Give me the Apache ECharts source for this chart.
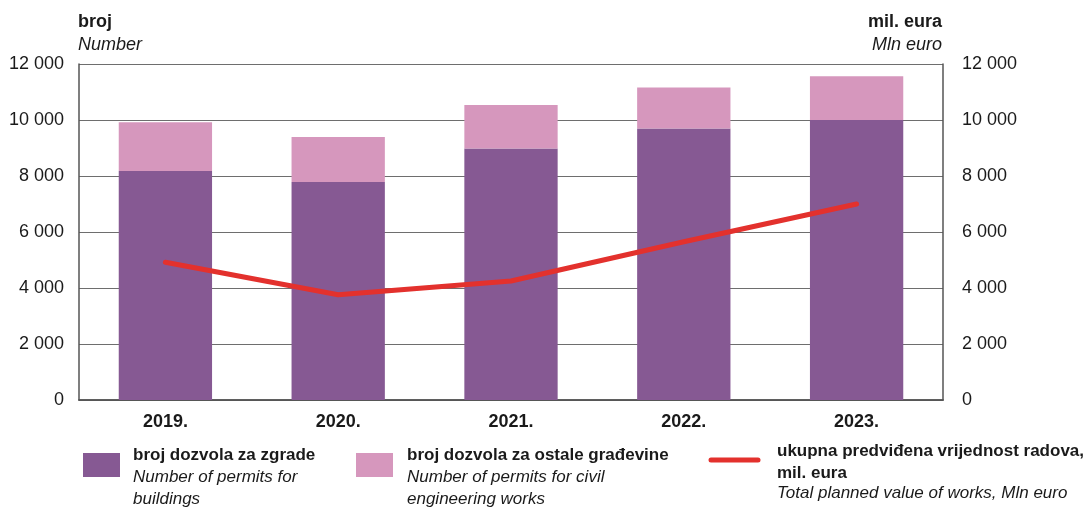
<!DOCTYPE html>
<html><head><meta charset="utf-8">
<script src="https://cdn.jsdelivr.net/npm/echarts@6/dist/echarts.min.js"></script>
<style>html,body{margin:0;padding:0;background:#fff}#c{width:1086px;height:510px}</style>
</head><body><div id="c"></div>
<script>
const categories = ['2019.', '2020.', '2021.', '2022.', '2023.'];
const permitsBuildings = [8180, 7790, 8980, 9700, 10000];
const permitsCivil = [1740, 1600, 1560, 1460, 1560];
const totalValue = [4920, 3760, 4250, 5650, 7000];
const yTicks = [0, 2000, 4000, 6000, 8000, 10000, 12000];

const FONT = '"Liberation Sans", Arial, sans-serif';
const C_DARK = '#865993', C_LIGHT = '#d697bd', C_RED = '#e3312d', TXT = '#1a1a1a';
const fmt = v => String(v).replace(/\B(?=(\d{3})+(?!\d))/g, ' ');

const chart = echarts.init(document.getElementById('c'));
const axisCommon = {
  type: 'value', min: yTicks[0], max: yTicks[yTicks.length - 1], interval: 2000,
  axisLine: { show: true, lineStyle: { color: '#555', width: 1.5 } },
  axisTick: { show: false },
  splitLine: { show: false },
  axisLabel: { fontFamily: FONT, fontSize: 18, color: TXT, formatter: fmt }
};
chart.setOption({
  animation: false,
  grid: { left: 79, right: 143, top: 64, bottom: 110, containLabel: false },
  xAxis: [{
    type: 'category', data: categories,
    axisLine: { lineStyle: { color: '#555', width: 1.5 } },
    axisTick: { show: false },
    axisLabel: { fontFamily: FONT, fontSize: 18, fontWeight: 'bold', color: TXT, margin: 13 }
  }, {
    type: 'category', data: categories, position: 'top',
    axisLine: { show: true, lineStyle: { color: '#555', width: 1.5 } },
    axisTick: { show: false }, axisLabel: { show: false }
  }],
  yAxis: [
    Object.assign({}, axisCommon, {
      position: 'left',
      splitLine: { show: true, lineStyle: { color: '#6e6e6e', width: 1 } },
      axisLabel: Object.assign({}, axisCommon.axisLabel, { margin: 15 })
    }),
    Object.assign({}, axisCommon, {
      position: 'right',
      axisLabel: Object.assign({}, axisCommon.axisLabel, { margin: 19 })
    })
  ],
  series: [
    { name: 'broj dozvola za zgrade', type: 'bar', stack: 'p', data: permitsBuildings,
      barWidth: '54%', itemStyle: { color: C_DARK }, z: 2 },
    { name: 'broj dozvola za ostale građevine', type: 'bar', stack: 'p', data: permitsCivil,
      barWidth: '54%', itemStyle: { color: C_LIGHT }, z: 2 },
    { name: 'ukupna predviđena vrijednost radova', type: 'line', yAxisIndex: 1, data: totalValue,
      symbol: 'none', lineStyle: { color: C_RED, width: 5, cap: 'round', join: 'round' }, z: 5 }
  ],
  graphic: [
    { type: 'text', left: 78, top: 13, style: { text: 'broj', font: 'bold 18px ' + FONT, fill: TXT } },
    { type: 'text', left: 78, top: 36, style: { text: 'Number', font: 'italic 18px ' + FONT, fill: TXT } },
    { type: 'text', right: 144, top: 13, style: { text: 'mil. eura', font: 'bold 18px ' + FONT, fill: TXT, align: 'right' } },
    { type: 'text', right: 144, top: 36, style: { text: 'Mln euro', font: 'italic 18px ' + FONT, fill: TXT, align: 'right' } },
    // legend 1
    { type: 'rect', shape: { x: 83, y: 453, width: 37, height: 24 }, style: { fill: C_DARK } },
    { type: 'text', left: 133, top: 447, style: { text: 'broj dozvola za zgrade', font: 'bold 17px ' + FONT, fill: TXT } },
    { type: 'text', left: 133, top: 467, style: { text: 'Number of permits for\nbuildings', font: 'italic 17px ' + FONT, fill: TXT, lineHeight: 21.5 } },
    // legend 2
    { type: 'rect', shape: { x: 356, y: 453, width: 37, height: 24 }, style: { fill: C_LIGHT } },
    { type: 'text', left: 407, top: 447, style: { text: 'broj dozvola za ostale građevine', font: 'bold 17px ' + FONT, fill: TXT } },
    { type: 'text', left: 407, top: 467, style: { text: 'Number of permits for civil\nengineering works', font: 'italic 17px ' + FONT, fill: TXT, lineHeight: 21.5 } },
    // legend 3
    { type: 'line', shape: { x1: 711, y1: 460, x2: 758, y2: 460 }, style: { stroke: C_RED, lineWidth: 5, lineCap: 'round' } },
    { type: 'text', left: 777, top: 441, style: { text: 'ukupna predviđena vrijednost radova,\nmil. eura', font: 'bold 17px ' + FONT, fill: TXT, lineHeight: 21.5 } },
    { type: 'text', left: 777, top: 485, style: { text: 'Total planned value of works, Mln euro', font: 'italic 17px ' + FONT, fill: TXT } }
  ]
});
</script></body></html>
